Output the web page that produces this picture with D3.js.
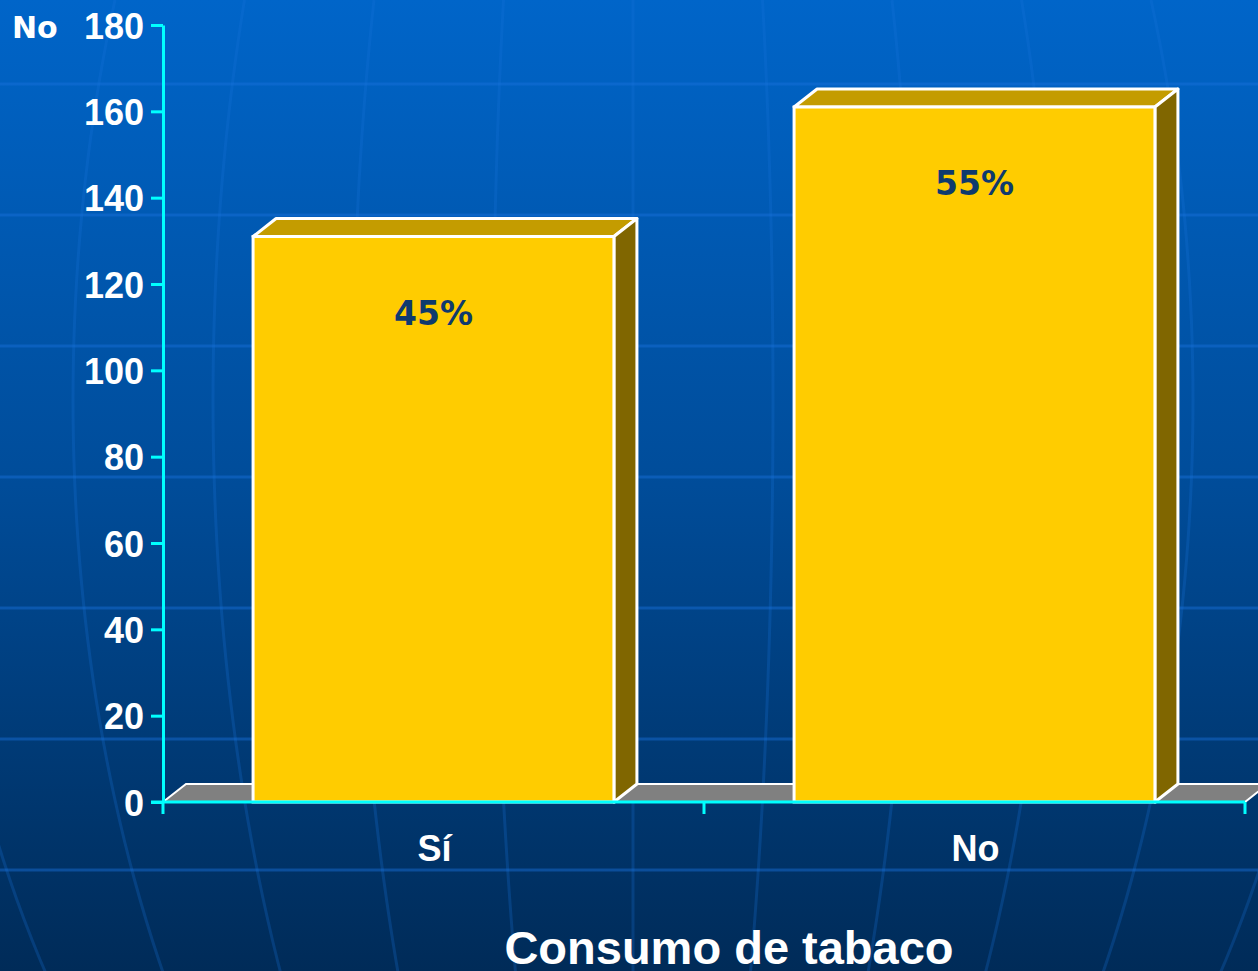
<!DOCTYPE html>
<html>
<head>
<meta charset="utf-8">
<script src="https://cdn.jsdelivr.net/npm/d3@7"></script>
<style>
  body { margin: 0; overflow: hidden; background: #003f80; }
  text { font-family: "Liberation Sans", Arial, sans-serif; font-weight: bold; }
</style>
</head>
<body>
<svg id="chart" width="1258" height="971"></svg>
<script>
/* data */
var categories = ["Sí", "No"];
var counts = [131, 161];
var pctLabels = ["45%", "55%"];
var yTicks = [0, 20, 40, 60, 80, 100, 120, 140, 160, 180];
var yTitle = "No";
var xTitle = "Consumo de tabaco";

var width = 1258,
	height = 971,
	depthX = 23,
	depthY = -18;

var svg = d3.select("#chart");

var y = d3.scaleLinear().domain([0, 180]).range([802, 25]);
var x = d3.scaleBand().domain(categories).range([163, 1245]);
var barW = x.bandwidth() * 0.667;

// background gradient
var defs = svg.append("defs");
var grad = defs.append("linearGradient").attr("id", "bg")
	.attr("x1", 0).attr("y1", 0).attr("x2", 0).attr("y2", 1);
grad.append("stop").attr("offset", "0%").attr("stop-color", "#0065c9");
grad.append("stop").attr("offset", "50%").attr("stop-color", "#004c99");
grad.append("stop").attr("offset", "100%").attr("stop-color", "#002b58");

svg.append("rect").attr("width", width).attr("height", height).attr("fill", "url(#bg)");

// globe-like decoration: straight parallels, curved meridians
var deco = svg.append("g").attr("class", "deco");
deco.selectAll(".parallel")
	.data(d3.range(84, height, 131))
	.enter().append("line")
		.attr("class", "parallel")
		.attr("x1", 0).attr("x2", width)
		.attr("y1", function(d) { return d; })
		.attr("y2", function(d) { return d; })
		.attr("stroke", "#1872dc")
		.attr("stroke-opacity", 0.45)
		.attr("stroke-width", 3);

var meridian = d3.line()
	.x(function(d) { return d[0]; })
	.y(function(d) { return d[1]; });
deco.selectAll(".meridian")
	.data(d3.range(-5, 6))
	.enter().append("path")
		.attr("class", "meridian")
		.attr("d", function(k) {
			var pts = d3.range(0, height + 20, 20).map(function(yy) {
				var s = Math.sqrt(1 - Math.pow((yy - 400) / 1053, 2));
				return [633 + 140 * k * s, yy];
			});
			return meridian(pts);
		})
		.attr("fill", "none")
		.attr("stroke", "#1872dc")
		.attr("stroke-opacity", 0.25)
		.attr("stroke-width", 3);

// floor
var fx0 = x.range()[0], fx1 = x.range()[1], fy = y(0);
svg.append("polygon")
	.attr("points", [[fx0, fy], [fx0 + depthX, fy + depthY], [fx1 + depthX, fy + depthY], [fx1, fy]].join(" "))
	.attr("fill", "#808080")
	.attr("stroke", "#ffffff")
	.attr("stroke-width", 2);

// bars
var bars = svg.selectAll(".bar")
	.data(categories)
	.enter().append("g")
		.attr("class", "bar");

function barX0(d) { return x(d) + (x.bandwidth() - barW) / 2; }

bars.append("polygon")
	.attr("points", function(d, i) {
		var x0 = barX0(d), x1 = x0 + barW, yt = y(counts[i]);
		return [[x0, yt], [x0 + depthX, yt + depthY], [x1 + depthX, yt + depthY], [x1, yt]].join(" ");
	})
	.attr("fill", "#c49c00")
	.attr("stroke", "#ffffff").attr("stroke-width", 3).attr("stroke-linejoin", "round");

bars.append("polygon")
	.attr("points", function(d, i) {
		var x1 = barX0(d) + barW, yt = y(counts[i]);
		return [[x1, yt], [x1 + depthX, yt + depthY], [x1 + depthX, fy + depthY], [x1, fy]].join(" ");
	})
	.attr("fill", "#806600")
	.attr("stroke", "#ffffff").attr("stroke-width", 3).attr("stroke-linejoin", "round");

bars.append("rect")
	.attr("x", barX0)
	.attr("y", function(d, i) { return y(counts[i]); })
	.attr("width", barW)
	.attr("height", function(d, i) { return fy - y(counts[i]); })
	.attr("fill", "#ffcc00")
	.attr("stroke", "#ffffff").attr("stroke-width", 3);

bars.append("text")
	.attr("x", function(d) { return x(d) + x.bandwidth() / 2; })
	.attr("y", function(d, i) { return y(counts[i]) + 88; })
	.attr("text-anchor", "middle")
	.style("font-family", "'DejaVu Sans', Verdana, sans-serif")
	.attr("font-size", 33)
	.attr("fill", "#0f3a6e")
	.text(function(d, i) { return pctLabels[i]; });

// y axis
var yAxis = svg.append("g")
	.attr("transform", "translate(" + fx0 + ",0)")
	.call(d3.axisLeft(y).tickValues(yTicks).tickSize(12).tickSizeOuter(0).tickPadding(7));
yAxis.select(".domain").attr("stroke", "#00ffff").attr("stroke-width", 3);
yAxis.selectAll(".tick line").attr("stroke", "#00ffff").attr("stroke-width", 3);
yAxis.selectAll(".tick text")
	.attr("fill", "#ffffff")
	.attr("font-size", 36)
	.attr("font-family", null)
	.attr("dy", "0.37em");

// x axis
svg.append("line")
	.attr("x1", fx0 - 12).attr("x2", fx1)
	.attr("y1", fy).attr("y2", fy)
	.attr("stroke", "#00ffff").attr("stroke-width", 3);
svg.selectAll(".xtick")
	.data(categories.map(function(d) { return x(d); }).concat([fx1]))
	.enter().append("line")
		.attr("class", "xtick")
		.attr("x1", function(d) { return d; }).attr("x2", function(d) { return d; })
		.attr("y1", fy).attr("y2", fy + 12)
		.attr("stroke", "#00ffff").attr("stroke-width", 3);

svg.selectAll(".xlabel")
	.data(categories)
	.enter().append("text")
		.attr("class", "xlabel")
		.attr("x", function(d) { return x(d) + x.bandwidth() / 2 + 1; })
		.attr("y", 861)
		.attr("text-anchor", "middle")
		.attr("font-size", 36)
		.attr("fill", "#ffffff")
		.text(function(d) { return d; });

// titles
svg.append("text")
	.attr("x", 12).attr("y", 38)
	.style("font-family", "'DejaVu Sans', Verdana, sans-serif")
	.attr("font-size", 30)
	.attr("fill", "#ffffff")
	.text(yTitle);

svg.append("text")
	.attr("x", 729).attr("y", 964)
	.attr("text-anchor", "middle")
	.attr("font-size", 47)
	.attr("fill", "#ffffff")
	.text(xTitle);
</script>
</body>
</html>
